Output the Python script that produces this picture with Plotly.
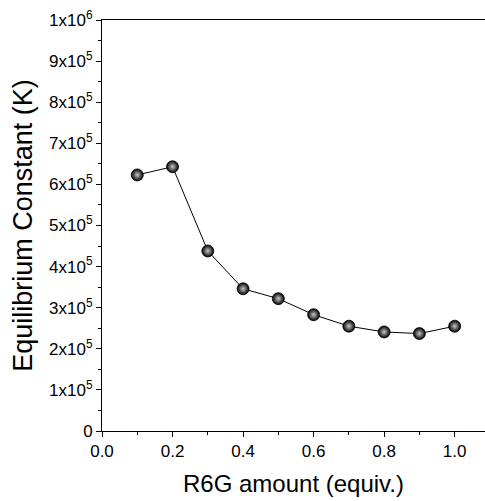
import plotly.graph_objects as go

x_vals = [0.1, 0.2, 0.3, 0.4, 0.5, 0.6, 0.7, 0.8, 0.9, 1.0]
k_vals = [6.23e5, 6.43e5, 4.38e5, 3.46e5, 3.22e5, 2.83e5, 2.55e5, 2.41e5, 2.37e5, 2.55e5]

x_ticks = [0.0, 0.2, 0.4, 0.6, 0.8, 1.0]
x_ticktext = ["0.0", "0.2", "0.4", "0.6", "0.8", "1.0"]
y_ticks = [0, 1e5, 2e5, 3e5, 4e5, 5e5, 6e5, 7e5, 8e5, 9e5, 1e6]
y_ticktext = ["0"] + [f"{i}x10<sup>5</sup>" for i in range(1, 10)] + ["1x10<sup>6</sup>"]

font = "Liberation Sans, Arial, sans-serif"

fig = go.Figure()
fig.add_trace(go.Scatter(
    x=x_vals, y=k_vals, mode="lines+markers",
    line=dict(color="black", width=1),
    marker=dict(size=12, color="black",
                gradient=dict(type="radial", color="#c8c8c8"),
                line=dict(color="black", width=0.8)),
    showlegend=False,
))

fig.update_layout(
    width=485, height=501,
    margin=dict(l=102, r=0, t=20, b=70),
    paper_bgcolor="white", plot_bgcolor="white",
    font=dict(family=font, color="black"),
    xaxis=dict(
        range=[0, 1.086], tickvals=x_ticks, ticktext=x_ticktext,
        ticks="outside", ticklen=5, tickwidth=1, tickcolor="black",
        minor=dict(tickvals=[0.1, 0.3, 0.5, 0.7, 0.9], ticks="outside", ticklen=3, tickcolor="black"),
        showline=True, linecolor="black", linewidth=1, mirror=True,
        showgrid=False, zeroline=False, automargin=False,
        tickfont=dict(size=17, family=font),
        title=dict(text="R6G amount (equiv.)", font=dict(size=24, family=font), standoff=14),
    ),
    yaxis=dict(
        range=[0, 1e6], tickvals=y_ticks, ticktext=y_ticktext,
        ticks="outside", ticklen=5, tickwidth=1, tickcolor="black",
        minor=dict(tickvals=[i * 1e5 + 5e4 for i in range(10)], ticks="outside", ticklen=3, tickcolor="black"),
        showline=True, linecolor="black", linewidth=1,
        showgrid=False, zeroline=False, automargin=False,
        tickfont=dict(size=17, family=font),
        title=dict(text="Equilibrium Constant (K)", font=dict(size=27, family=font), standoff=8),
    ),
)

fig.write_html("out.html", config={"displayModeBar": False},
               post_script="document.body.style.margin='0';document.body.style.overflow='hidden';")
